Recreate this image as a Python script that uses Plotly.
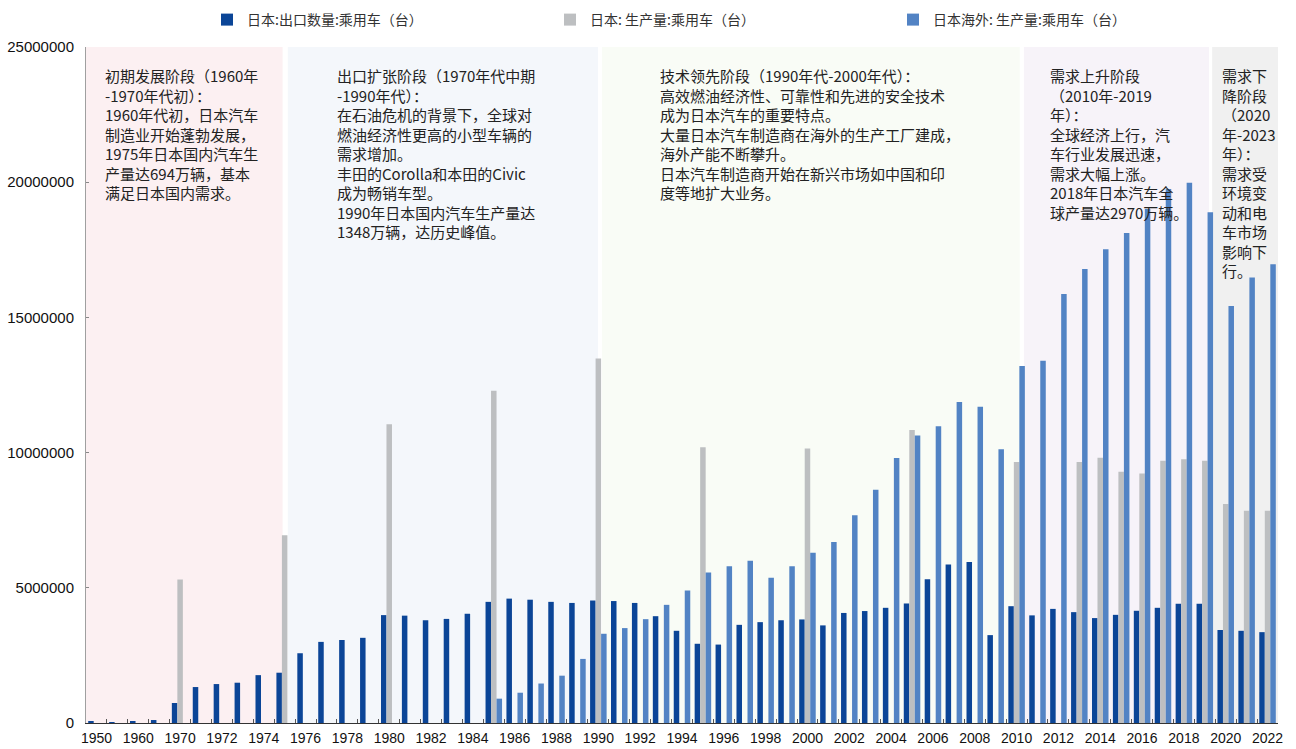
import plotly.graph_objects as go

years = ["1950", "1955", "1960", "1965"] + [str(y) for y in range(1970, 2023)]

export_cars = [
    50000, 2000, 40000, 110000,
    740000, 1330000, 1440000, 1490000, 1770000, 1860000, 2580000, 3000000, 3070000, 3150000,
    3990000, 3970000, 3800000, 3850000, 4040000, 4480000, 4600000, 4560000, 4480000, 4440000,
    4530000, 4510000, 4440000, 3950000, 3410000, 2930000, 2900000, 3630000, 3730000, 3800000,
    3830000, 3610000, 4070000, 4140000, 4260000, 4420000, 5320000, 5860000, 5950000, 3250000,
    4320000, 3980000, 4220000, 4100000, 3880000, 4000000, 4150000, 4260000, 4410000, 4410000,
    3440000, 3410000, 3360000,
]

domestic_prod = [
    None, None, None, None,
    5310000, None, None, None, None, 6940000, None, None, None, None,
    11050000, None, None, None, None, 12290000, None, None, None, None,
    13480000, None, None, None, None, 10200000, None, None, None, None,
    10150000, None, None, None, None, 10840000, None, None, None, None,
    9650000, None, None, 9650000, 9810000, 9290000, 9230000, 9700000, 9750000, 9700000,
    8100000, 7850000, 7850000,
]

overseas_prod = [
    None, None, None, None,
    None, None, None, None, None, None, None, None, None, None,
    None, None, None, None, None, 900000, 1120000, 1460000, 1750000, 2370000,
    3300000, 3510000, 3840000, 4370000, 4900000, 5570000, 5800000, 6000000, 5370000, 5800000,
    6300000, 6690000, 7680000, 8630000, 9800000, 10630000, 10970000, 11870000, 11700000, 10120000,
    13200000, 13400000, 15870000, 16790000, 17520000, 18120000, 19010000, 19750000, 19980000, 18890000,
    15420000, 16480000, 16970000,
]

series_names = ["日本:出口数量:乘用车（台）", "日本: 生产量:乘用车（台）", "日本海外: 生产量:乘用车（台）"]
series_colors = ["#0b4597", "#bdbfc1", "#5283c4"]

phase_texts = [
    "初期发展阶段（1960年<br>-1970年代初）：<br>1960年代初，日本汽车<br>制造业开始蓬勃发展，<br>1975年日本国内汽车生<br>产量达694万辆，基本<br>满足日本国内需求。",
    "出口扩张阶段（1970年代中期<br>-1990年代）：<br>在石油危机的背景下，全球对<br>燃油经济性更高的小型车辆的<br>需求增加。<br>丰田的Corolla和本田的Civic<br>成为畅销车型。<br>1990年日本国内汽车生产量达<br>1348万辆，达历史峰值。",
    "技术领先阶段（1990年代-2000年代）：<br>高效燃油经济性、可靠性和先进的安全技术<br>成为日本汽车的重要特点。<br>大量日本汽车制造商在海外的生产工厂建成，<br>海外产能不断攀升。<br>日本汽车制造商开始在新兴市场如中国和印<br>度等地扩大业务。",
    "需求上升阶段<br>（2010年-2019<br>年）：<br>全球经济上行，汽<br>车行业发展迅速，<br>需求大幅上涨。<br>2018年日本汽车全<br>球产量达2970万辆。",
    "需求下<br>降阶段<br>（2020<br>年-2023<br>年）：<br>需求受<br>环境变<br>动和电<br>车市场<br>影响下<br>行。",
]

# phase band extents in category-index units, fill colours
phase_bands = [(-0.5, 8.9, "#fcf0f2"), (9.15, 23.98, "#f4f7fb"), (24.17, 44.15, "#f9fcf6"),
               (44.35, 53.2, "#f7f3f9"), (53.35, 56.5, "#f0f0f0")]
text_px = [103, 335, 658, 1048, 1220]

L, R, T, B = 86, 18, 47, 26
W, H = 1296, 749
pw, ph = W - L - R, H - T - B

fig = go.Figure()
for name, vals, col in zip(series_names, [export_cars, domestic_prod, overseas_prod], series_colors):
    fig.add_trace(go.Bar(x=years, y=vals, name=name, marker=dict(color=col, line=dict(width=0))))

shapes = []
for x0, x1, c in phase_bands:
    shapes.append(dict(type="rect", xref="x", yref="y", x0=x0, x1=x1, y0=0, y1=25000000,
                       fillcolor=c, line=dict(width=0), layer="below"))

annotations = []
for txt, px in zip(phase_texts, text_px):
    annotations.append(dict(text=txt, xref="paper", yref="paper", x=(px - L) / pw, y=(H - B - 63) / ph,
                            xanchor="left", yanchor="top", align="left", showarrow=False,
                            font=dict(family="Noto Sans CJK SC", size=15, color="#222222")))

fig.update_layout(
    width=W, height=H,
    margin=dict(l=L, r=R, t=T, b=B, autoexpand=False),
    paper_bgcolor="white", plot_bgcolor="white",
    barmode="group", bargap=0.21, bargroupgap=0,
    shapes=shapes, annotations=annotations,
    legend=dict(orientation="h", x=(207 - L) / pw, xanchor="left", y=1 + 27 / ph, yanchor="middle",
                entrywidth=298, entrywidthmode="pixels", itemwidth=30,
                font=dict(family="Noto Sans CJK SC", size=14, color="#333333"),
                bgcolor="rgba(0,0,0,0)"),
    font=dict(family="Liberation Sans", size=15, color="#111111"),
    xaxis=dict(type="category", range=[-0.5, 56.5], dtick=1, ticklabelstep=2, tickson="boundaries",
               ticks="inside", ticklen=4, tickcolor="#555555", showline=True, linecolor="#333333",
               linewidth=1, showgrid=False, tickangle=0, ticklabelstandoff=2,
               tickfont=dict(family="Liberation Sans", size=14, color="#111111")),
    yaxis=dict(range=[0, 25000000], tickvals=[0, 5000000, 10000000, 15000000, 20000000, 25000000],
               ticktext=["0", "5000000", "10000000", "15000000", "20000000", "25000000"],
               ticks="inside", ticklen=3, tickcolor="#888888", showline=True, linecolor="#a0a0a0",
               linewidth=1, showgrid=False, zeroline=False, ticklabelstandoff=8,
               tickfont=dict(family="Liberation Sans", size=15, color="#111111")),
)

fig.write_html("out.html")
